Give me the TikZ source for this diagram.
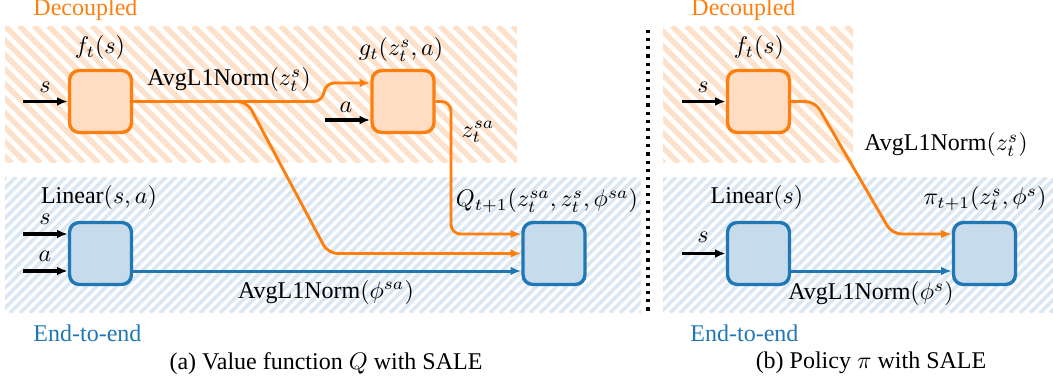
\documentclass[tikz,border=0pt]{standalone}
\usepackage{fontspec}
\setmainfont{Liberation Serif}
\usetikzlibrary{arrows.meta}
\definecolor{dorange}{HTML}{FF7F0E}
\definecolor{dblue}{HTML}{1F77B4}
\definecolor{lorange}{HTML}{FEDDC3}
\definecolor{lblue}{HTML}{C6DBEC}
\definecolor{sorange}{HTML}{FDE1CA}
\definecolor{sblue}{HTML}{DBE7F3}
\tikzstyle{obox}=[rectangle,rounded corners=4pt,draw=dorange,fill=lorange,line width=1.4pt,minimum size=25.8pt]
\tikzstyle{bbox}=[rectangle,rounded corners=4pt,draw=dblue,fill=lblue,line width=1.4pt,minimum size=25.8pt]
\tikzstyle{lab}=[inner sep=0pt]
\tikzstyle{inarr}=[-{Latex[length=4.5pt,width=3.6pt]},line width=1.3pt]
\tikzstyle{oline}=[-{Latex[length=4.5pt,width=3.6pt]},draw=dorange,line width=1.2pt,rounded corners=4pt]
\tikzstyle{bline}=[-{Latex[length=4.5pt,width=3.6pt]},draw=dblue,line width=1.25pt]
\tikzstyle{ostripe}=[draw=sorange,line width=2.3pt]
\tikzstyle{bstripe}=[draw=sblue,line width=1.6pt]

\begin{document}
\begin{tikzpicture}[x=0.4167pt,y=-0.4167pt]
\useasboundingbox (0,0) rectangle (1053,383);
% hatched bands
\begin{scope}
\clip (5,26) rectangle (517,163) (663,26) rectangle (853,163);
\foreach \i in {-140,-125.5,...,860} \draw[ostripe] (\i,26) -- ++(137,137);
\end{scope}
\begin{scope}
\clip (5,177) rectangle (641,313) (663,177) rectangle (1053,313);
\foreach \i in {-140,-130,...,1060} \draw[bstripe] (\i,313) -- ++(136,-136);
\end{scope}
\draw[line width=1.3pt,dash pattern=on 1.3pt off 2.1pt] (648,30) -- (648,313);

% (a) value function
\node[lab,anchor=west,text=dorange] (deca) at (33,10) {Decoupled};
\node[lab,anchor=west,text=dblue] (e2ea) at (33,333) {End-to-end};
\node[obox] (fl) at (100.5,101.5) {};
\node[lab] (fltext) at (100,48) {$f_t(s)$};
\node[obox] (gl) at (403,101.5) {};
\node[lab] (gltext) at (401,50) {$g_t(z_t^s,a)$};
\node[bbox] (ll) at (100.5,253.5) {};
\node[lab] (lltext) at (99,198) {Linear$(s,a)$};
\node[bbox] (ql) at (554,253.5) {};
\node[lab] (qltext) at (547,201) {$Q_{t+1}(z_t^{sa},z_t^s,\phi^{sa})$};
\coordinate (sl) at (23,101.5);
\coordinate (al) at (325,120);
\coordinate (sl2) at (23,234);
\coordinate (al2) at (23,271);
\draw[inarr] (sl) -- (fl);
\draw[inarr] (al) -- (al -| gl.west);
\draw[inarr] (sl2) -- (sl2 -| ll.west);
\draw[inarr] (al2) -- (al2 -| ll.west);
\node[lab] (sltext) at (45,87) {$s$};
\node[lab] (altext) at (346,107) {$a$};
\node[lab] (sl2text) at (45,219) {$s$};
\node[lab] (al2text) at (45,256) {$a$};
\draw[oline,rounded corners=3pt] (fl.east) -- (321,101.5) -- (327,83) -- ([yshift=7.7pt]gl.west);
\draw[oline] (fl.east) -- (247,101.5) -- (328,253.5) -- (ql.west);
\draw[oline] (gl.east) -- (451,101.5) -- (451,234) -- ([yshift=8.1pt]ql.west);
\draw[bline] ([yshift=-7.3pt]ll.east) -- ([yshift=-7.3pt]ql.west);
\node[lab] (zsl) at (229,80) {AvgL1Norm$(z_t^s)$};
\node[lab] (zsal) at (478,132) {$z_t^{sa}$};
\node[lab] (phil) at (326,292) {AvgL1Norm$(\phi^{sa})$};
\node[lab] (capa) at (326,364) {(a) Value function $Q$ with SALE};

% (b) policy
\node[lab,anchor=west,text=dorange] (decb) at (691,10) {Decoupled};
\node[lab,anchor=west,text=dblue] (e2eb) at (690,333) {End-to-end};
\node[obox] (fr) at (758.5,101.5) {};
\node[lab] (frtext) at (759,48) {$f_t(s)$};
\node[bbox] (lr) at (758.5,253.5) {};
\node[lab] (lrtext) at (757,198) {Linear$(s)$};
\node[bbox] (pr) at (984.5,253.5) {};
\node[lab] (prtext) at (985,199) {$\pi_{t+1}(z_t^s,\phi^s)$};
\coordinate (sr) at (682,101.5);
\coordinate (sr2) at (682,253.5);
\draw[inarr] (sr) -- (fr);
\draw[inarr] (sr2) -- (lr);
\node[lab] (srtext) at (703,87) {$s$};
\node[lab] (sr2text) at (703,237) {$s$};
\draw[oline] (fr.east) -- (815,101.5) -- (892,234) -- ([yshift=8.1pt]pr.west);
\draw[bline] ([yshift=-7.3pt]lr.east) -- ([yshift=-7.3pt]pr.west);
\node[lab] (zsr) at (946,145) {AvgL1Norm$(z_t^s)$};
\node[lab] (phir) at (871,294) {AvgL1Norm$(\phi^s)$};
\node[lab] (capb) at (871,363) {(b) Policy $\pi$ with SALE};
\end{tikzpicture}
\end{document}
